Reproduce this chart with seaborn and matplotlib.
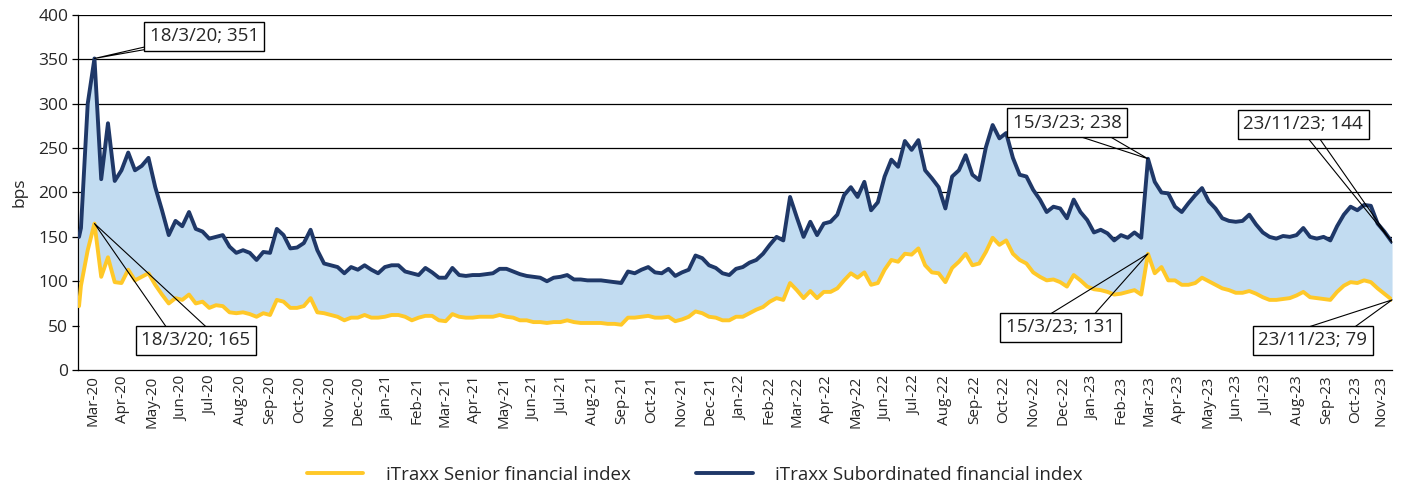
import pandas as pd
import matplotlib
matplotlib.use("Agg")
import matplotlib.pyplot as plt
import matplotlib.dates as mdates
import seaborn as sns

# weekly (Wednesday) readings, plus the first and last trading days shown
first_day = "2020-03-02"
weekly_start, weekly_end = "2020-03-04", "2023-11-15"
last_day = "2023-11-23"

senior = [
    72,
    95, 135, 165, 105, 127, 99, 98, 113, 101, 105,
    109, 96, 85, 75, 81, 79, 85, 75, 77, 70,
    73, 72, 65, 64, 65, 63, 60, 64, 62, 79,
    77, 70, 70, 72, 81, 65, 64, 62, 60, 56,
    59, 59, 62, 59, 59, 60, 62, 62, 60, 56,
    59, 61, 61, 56, 55, 63, 60, 59, 59, 60,
    60, 60, 62, 60, 59, 56, 56, 54, 54, 53,
    54, 54, 56, 54, 53, 53, 53, 53, 52, 52,
    51, 59, 59, 60, 61, 59, 59, 60, 55, 57,
    60, 66, 64, 60, 59, 56, 56, 60, 60, 64,
    68, 71, 77, 81, 79, 98, 90, 81, 89, 81,
    88, 88, 92, 101, 109, 104, 110, 96, 98, 113,
    124, 122, 131, 130, 137, 118, 110, 109, 99, 115,
    122, 131, 118, 120, 133, 149, 141, 146, 131, 124,
    120, 110, 105, 101, 102, 99, 94, 107, 101, 94,
    91, 90, 88, 85, 86, 88, 90, 85, 131, 109,
    116, 101, 101, 96, 96, 98, 104, 100, 96, 92,
    90, 87, 87, 89, 86, 82, 79, 79, 80, 81,
    84, 88, 82, 81, 80, 79, 88, 95, 99, 98,
    101, 99, 92, 86,
    79,
]

subordinated = [
    150,
    160, 300, 351, 215, 278, 213, 225, 245, 225, 230,
    239, 206, 180, 152, 168, 162, 178, 159, 156, 148,
    150, 152, 139, 132, 135, 132, 124, 133, 132, 159,
    152, 137, 138, 143, 158, 135, 120, 118, 116, 109,
    116, 113, 118, 113, 109, 116, 118, 118, 111, 109,
    107, 115, 110, 104, 104, 115, 107, 106, 107, 107,
    108, 109, 114, 114, 111, 108, 106, 105, 104, 100,
    104, 105, 107, 102, 102, 101, 101, 101, 100, 99,
    98, 111, 109, 113, 116, 110, 109, 114, 106, 110,
    113, 129, 126, 118, 115, 109, 107, 114, 116, 121,
    124, 131, 141, 150, 146, 195, 172, 150, 167, 152,
    165, 167, 175, 197, 206, 195, 212, 180, 189, 218,
    237, 229, 258, 248, 259, 225, 216, 206, 182, 218,
    225, 242, 220, 214, 251, 276, 261, 267, 239, 220,
    218, 203, 192, 178, 184, 182, 171, 192, 178, 169,
    155, 158, 154, 146, 152, 149, 155, 149, 238, 212,
    200, 199, 184, 178, 188, 197, 205, 190, 182, 171,
    168, 167, 168, 175, 164, 155, 150, 148, 151, 150,
    152, 160, 150, 148, 150, 146, 162, 175, 184, 180,
    186, 185, 165, 156,
    144,
]

senior_label = "iTraxx Senior financial index"
sub_label = "iTraxx Subordinated financial index"

YELLOW = "#FFC828"
NAVY = "#1F3868"
FILL = "#C2DCF1"

dates = (pd.DatetimeIndex([first_day])
         .append(pd.date_range(weekly_start, weekly_end, freq="W-WED"))
         .append(pd.DatetimeIndex([last_day])))
df = pd.DataFrame({"date": dates, "senior": senior, "sub": subordinated})

sns.set_style("white")
plt.rcParams["font.family"] = ["Open Sans", "DejaVu Sans"]

fig, ax = plt.subplots(figsize=(14.04, 4.91), dpi=100)
fig.subplots_adjust(left=0.0556, right=0.9915, top=0.9695, bottom=0.2464)

# white band under the senior line hides the lower gridlines, blue band between the two
ax.fill_between(df["date"], 0, df["senior"], color="white", lw=0, zorder=1.5)
ax.fill_between(df["date"], df["senior"], df["sub"], color=FILL, lw=0, zorder=1.6)
sns.lineplot(data=df, x="date", y="senior", color=YELLOW, lw=2.8,
             label=senior_label, ax=ax, zorder=3)
sns.lineplot(data=df, x="date", y="sub", color=NAVY, lw=2.8,
             label=sub_label, ax=ax, zorder=3)

ax.set_ylim(0, 400)
ax.set_yticks(range(0, 401, 50))
ax.yaxis.grid(True, color="black", lw=0.9)
ax.xaxis.grid(False)
ax.set_axisbelow(True)
ax.set_ylabel("bps", fontsize=12.5, labelpad=8)
ax.set_xlabel("")

x_left = pd.Timestamp("2020-03-01")
x_right = pd.Timestamp(last_day)
ax.set_xlim(x_left, x_right)

months = pd.date_range(x_left, x_right, freq="MS")
edges = [mdates.date2num(m) for m in months] + [mdates.date2num(x_right)]
mids = [(a + b) / 2 for a, b in zip(edges[:-1], edges[1:])]
ax.set_xticks(edges)
ax.set_xticks(mids, labels=[m.strftime("%b-%y") for m in months], minor=True)
ax.tick_params(axis="x", which="major", length=47, width=0.9, color="black",
               direction="out", labelbottom=False)
ax.tick_params(axis="x", which="minor", length=0, labelsize=11, pad=4,
               labelrotation=90)
ax.tick_params(axis="y", length=4, width=0.9, color="black", left=True,
               labelsize=12.5, pad=3)

for side in ["top", "right"]:
    ax.spines[side].set_visible(False)
for side in ["left", "bottom"]:
    ax.spines[side].set_color("black")
    ax.spines[side].set_linewidth(0.9)

# callout labels: (date, series, text offset in points, wedge width)
callouts = [
    ("2020-03-18", "sub", (79, 16), 0.3),
    ("2020-03-18", "senior", (73, -84), 1.8),
    ("2023-03-15", "sub", (-58, 26), 1.0),
    ("2023-03-15", "senior", (-63, -53), 1.8),
    (last_day, "sub", (-64, 85), 0.55),
    (last_day, "senior", (-57, -29), 1.5),
]
for day, col, offset, tail in callouts:
    d = pd.Timestamp(day)
    v = df.loc[df["date"] == d, col].iloc[0]
    ax.annotate(f"{d.day}/{d.month}/{d:%y}; {v}", xy=(d, v), xytext=offset,
                textcoords="offset points", ha="center", va="center",
                fontsize=13.5, zorder=5, annotation_clip=False,
                bbox=dict(boxstyle="square,pad=0.3", fc="white", ec="black", lw=1),
                arrowprops=dict(arrowstyle=f"wedge,tail_width={tail}",
                                fc="none", ec="black", lw=0.8,
                                patchA=None, shrinkA=0, shrinkB=0))

handles, labels = ax.get_legend_handles_labels()
ax.get_legend().remove()
fig.legend(handles, labels, loc="center", bbox_to_anchor=(0.495, 0.033),
           ncol=2, frameon=False, fontsize=13.5, handlelength=3,
           handletextpad=1.2, columnspacing=3.5)

fig.savefig("out.png", dpi=100)
